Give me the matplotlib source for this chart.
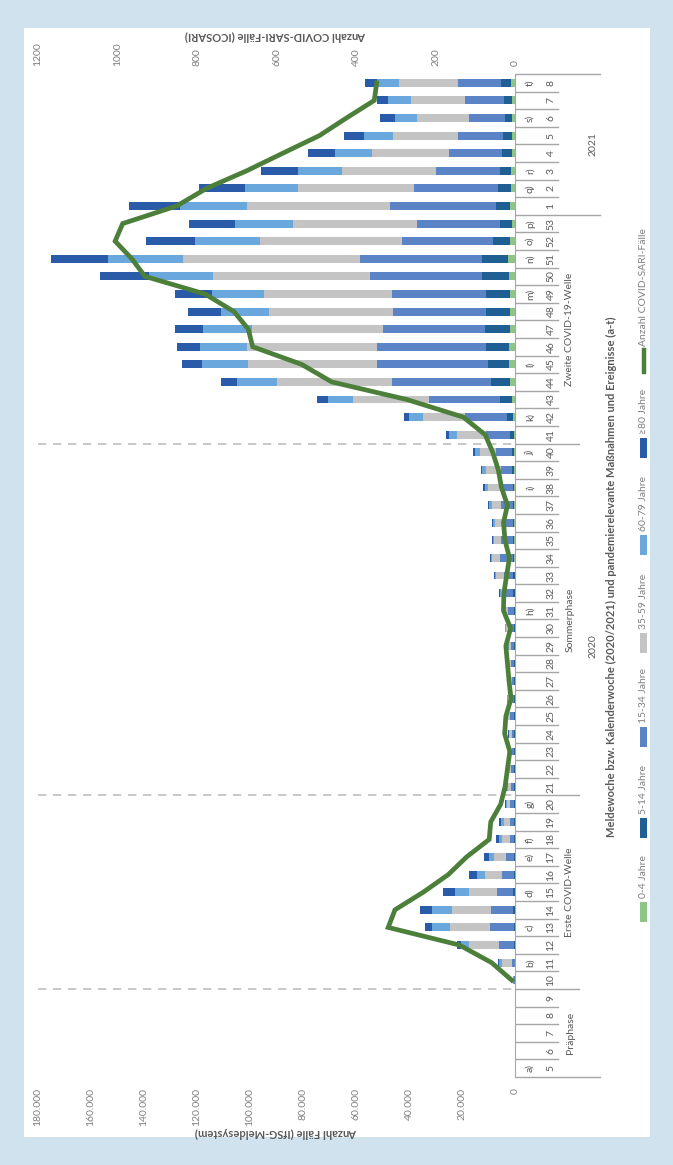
import matplotlib
matplotlib.use("Agg")
import matplotlib.pyplot as plt
import matplotlib.transforms as mtransforms
from matplotlib.patches import Rectangle
import numpy as np

plt.rcParams['font.family'] = ['Lato', 'DejaVu Sans']

# categories: weeks 5-53 of 2020, then weeks 1-8 of 2021
weeks = [str(w) for w in range(5, 54)] + [str(w) for w in range(1, 9)]
events = {"5": "a)", "11": "b)", "13": "c)", "15": "d)", "17": "e)", "18": "f)",
          "20": "g)", "31": "h)", "38": "i)", "40": "j)", "42": "k)", "45": "l)",
          "49": "m)", "51": "n)", "52": "o)", "53": "p)"}
events_2021 = {"2": "q)", "3": "r)", "6": "s)", "8": "t)"}
phases = ["Präphase", "Erste COVID-Welle", "Sommerphase", "Zweite COVID-19-Welle"]
phase_bounds = [(0, 4), (5, 15), (16, 35), (36, 48)]
years = ["2020", "2021"]
year_bounds = [(0, 48), (49, 56)]

# IfSG cases per age group (weeks 5..53 2020, 1..8 2021)
age_0_4 = [0, 0, 0, 0, 0, 10, 20, 50, 100, 150, 100, 100, 80, 60, 60, 100, 100, 100, 80, 80,
           120, 100, 80, 80, 90, 100, 100, 150, 150, 200, 200, 200, 200, 200, 200, 250, 400, 630,
           1130, 1890, 2140, 2140, 2010, 2010, 2010, 2390, 2770, 1890, 1260,
           1760, 1640, 1510, 1260, 1260, 1000, 1000, 1500]
age_5_14 = [0, 0, 0, 0, 0, 30, 100, 250, 400, 500, 500, 400, 300, 250, 250, 300, 250, 250, 200, 200,
            350, 300, 200, 200, 250, 300, 300, 600, 600, 600, 600, 600, 500, 600, 750, 880, 1500, 2520,
            4650, 7170, 8180, 8810, 9310, 9060, 8930, 10060, 9690, 6420, 4530,
            5540, 4900, 4030, 3520, 3270, 2770, 3150, 3900]
age_15_34 = [0, 0, 0, 0, 0, 150, 1200, 5800, 8800, 8300, 6200, 4300, 3000, 1700, 1500, 1300, 1200, 1000,
             900, 950, 1500, 1200, 1000, 1050, 1200, 1700, 2260, 3270, 3520, 5030, 4400, 3770, 4400, 5000,
             4280, 6040, 9060, 15700, 26540, 37360, 41890, 41140, 38620, 34970, 35600, 42140, 45900,
             34500, 31300, 39900, 31580, 24280, 20000, 16860, 13700, 14700, 16200]
age_35_59 = [0, 0, 0, 0, 0, 300, 3500, 11300, 15200, 14700, 10400, 6400, 4400, 2800, 2260, 1300, 1100,
             950, 850, 850, 1300, 1050, 850, 850, 900, 1200, 1260, 1260, 2770, 2770, 2640, 3150, 3400,
             4400, 5790, 6040, 10820, 15700, 28680, 43400, 48560, 48940, 49440, 46920, 48300, 59500,
             66900, 53500, 46550, 54100, 43780, 35600, 29300, 24530, 19600, 20400, 22000]
age_60_79 = [0, 0, 0, 0, 0, 100, 1400, 3150, 6800, 7700, 5400, 3300, 2100, 1260, 1130, 500, 450, 350,
             300, 280, 350, 300, 250, 220, 250, 350, 300, 500, 500, 500, 500, 500, 1260, 1260, 1260,
             2010, 3270, 5400, 9690, 15100, 17490, 17740, 18240, 17990, 19370, 24030, 28400, 24300,
             22000, 25160, 20000, 16480, 13700, 11070, 8300, 8550, 8550]
age_80 = [0, 0, 0, 0, 0, 30, 250, 1500, 2500, 4650, 4400, 2900, 2000, 1000, 750, 300, 300, 250, 170,
          140, 180, 150, 120, 100, 110, 150, 200, 380, 380, 500, 380, 380, 300, 500, 630, 630, 880,
          1900, 4030, 6160, 7420, 8930, 10820, 12330, 14220, 18490, 21400, 18750, 17500,
          19250, 17360, 13840, 10440, 7670, 5400, 4400, 4280]

# ICOSARI COVID-SARI cases, from week 10 of 2020 on
icosari = [8, 59, 140, 319, 302, 231, 168, 122, 65, 61, 36, 25, 19, 13, 26, 23, 10, 15, 19, 23,
           11, 29, 28, 21, 14, 25, 29, 19, 34, 42, 56, 75, 130, 272, 461, 537, 660, 671, 707, 780,
           931, 964, 1006, 987, 851, 776, 675, 584, 492, 424, 354, 348]

series = [age_0_4, age_5_14, age_15_34, age_35_59, age_60_79, age_80]
labels = ["0-4 Jahre", "5-14 Jahre", "15-34 Jahre", "35-59 Jahre", "60-79 Jahre", "≥80 Jahre"]
colors = ["#8fc489", "#1f5f93", "#5b84c6", "#c4c4c4", "#6aa7dc", "#2a5ba8"]
line_color = "#4b7f3a"
grey_txt = "#595959"
tick_txt = "#808080"
sep_color = "#a6a6a6"

W, H = 673, 1165
fig = plt.figure(figsize=(W / 100, H / 100), dpi=100)
fig.patch.set_facecolor("#d0e2ee")


def fx(x):
    return x / W


def fy(y):
    return 1 - y / H


fig.patches.append(Rectangle((fx(24), fy(1137)), fx(650) - fx(24), fy(28) - fy(1137),
                             transform=fig.transFigure, facecolor="white", edgecolor="none", zorder=-5))

ax = fig.add_axes([fx(38), fy(1077), fx(515) - fx(38), fy(74) - fy(1077)])
ax.patch.set_alpha(0)
pos = np.arange(len(weeks))
left = np.zeros(len(weeks))
for vals, col in zip(series, colors):
    ax.barh(pos, vals, left=left, height=0.45, color=col, zorder=2)
    left += np.array(vals)

ax.set_xlim(180000, 0)
ax.set_ylim(-0.5, len(weeks) - 0.5)
ax.set_xticks(np.arange(0, 180001, 20000))
ax.set_xticklabels([f"{v:,}".replace(",", ".") for v in range(0, 180001, 20000)],
                   rotation=90, color=tick_txt, fontsize=7.5)
ax.set_yticks([])
ax.tick_params(axis="x", length=0, pad=8)
for s in ["top", "bottom", "left"]:
    ax.spines[s].set_visible(False)
ax.spines["right"].set_color(sep_color)

# phase dashed lines
for (a, b) in phase_bounds[1:]:
    ax.axhline(a - 0.5, color="#bfbfbf", lw=1.2, ls=(0, (5, 4)), zorder=1)

ax2 = ax.twiny()
ax2.set_xlim(1200, 0)
ax2.plot(icosari, pos[5:], color=line_color, lw=3.4, solid_joinstyle="miter", zorder=3)
ax2.set_xticks(np.arange(0, 1201, 200))
ax2.set_xticklabels([str(v) for v in range(0, 1201, 200)], rotation=90, color=tick_txt, fontsize=7.5)
ax2.tick_params(axis="x", length=0, pad=6)
ax2.set_yticks([])
for s in ax2.spines.values():
    s.set_visible(False)

# category axis (multi-level) drawn to the right
tr = mtransforms.blended_transform_factory(fig.transFigure, ax.transData)
for i in range(len(weeks) + 1):
    b = i - 0.5
    end = 558
    if i in (0, len(weeks), 49):
        end = 600
    elif i in (5, 16, 36):
        end = 579
    ax.plot([fx(516), fx(end)], [b, b], transform=tr, color=sep_color, lw=1, clip_on=False)

for i, w in enumerate(weeks):
    ax.text(fx(551), i, w, transform=tr, rotation=90, ha="center", va="center",
            fontsize=7.5, color=grey_txt)
    ev = events.get(w) if i < 49 else events_2021.get(w)
    if ev:
        ax.text(fx(530), i, ev, transform=tr, rotation=90, ha="center", va="center",
                fontsize=7.5, color=grey_txt)

for name, (a, b) in zip(phases, phase_bounds):
    ax.text(fx(570), (a + b) / 2, name, transform=tr, rotation=90, ha="center", va="center",
            fontsize=7.5, color=grey_txt)
for name, (a, b) in zip(years, year_bounds):
    ax.text(fx(593), (a + b) / 2, name, transform=tr, rotation=90, ha="center", va="center",
            fontsize=7.5, color=grey_txt)

fig.text(fx(611), fy(577),
         "Meldewoche bzw. Kalenderwoche (2020/2021) und pandemierelevante Maßnahmen und Ereignisse (a-t)",
         rotation=90, ha="center", va="center", fontsize=8, fontweight="bold", color=grey_txt)
fig.text(fx(276), fy(1133), "Anzahl Fälle (IfSG-Meldesystem)", rotation=180,
         ha="center", va="center", fontsize=8, fontweight="bold", color=grey_txt)
fig.text(fx(276), fy(36), "Anzahl COVID-SARI-Fälle (ICOSARI)", rotation=180,
         ha="center", va="center", fontsize=8, fontweight="bold", color=grey_txt)

# legend, drawn by hand along the right edge
leg_y = [912, 828, 737, 643, 545, 448]
for yc, lab, col in zip(leg_y, labels, colors):
    fig.patches.append(Rectangle((fx(640), fy(yc + 10)), fx(7), fy(0) - fy(20),
                                 transform=fig.transFigure, facecolor=col, edgecolor="none"))
    fig.text(fx(643.5), fy(yc - 14), lab, rotation=90, ha="center", va="bottom",
             fontsize=7.5, color=tick_txt)
fig.add_artist(plt.Line2D([fx(643.5), fx(643.5)], [fy(372), fy(350)], color=line_color, lw=3.2,
                          transform=fig.transFigure))
fig.text(fx(643.5), fy(346), "Anzahl COVID-SARI-Fälle", rotation=90, ha="center", va="bottom",
         fontsize=7.5, color=tick_txt)

fig.savefig("out.png", dpi=100, facecolor=fig.get_facecolor())
